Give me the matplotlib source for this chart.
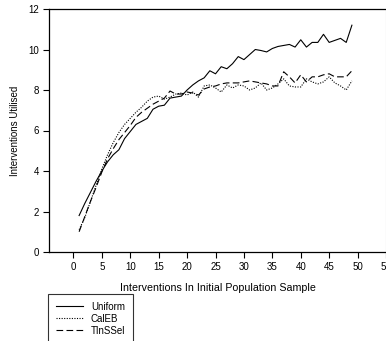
import matplotlib as mpl
import matplotlib.pyplot as plt
import numpy as np

plt.rcParams['font.family'] = ['Liberation Sans', 'DejaVu Sans']

# Interventions in initial population sample
sample_size = np.arange(1, 50)

uniform = [1.8, 2.4, 2.95, 3.5, 4.0, 4.45, 4.8, 5.05, 5.6, 5.95,
           6.3, 6.45, 6.6, 7.05, 7.2, 7.25, 7.6, 7.65, 7.7, 8.0,
           8.25, 8.45, 8.6, 8.95, 8.8, 9.15, 9.05, 9.3, 9.65, 9.5,
           9.75, 10.0, 9.95, 9.88, 10.05, 10.15, 10.2, 10.25, 10.12, 10.48,
           10.12, 10.35, 10.35, 10.75, 10.35, 10.45, 10.55, 10.35, 11.2]

caleb = [1.1, 1.7, 2.5, 3.3, 4.1, 4.8, 5.4, 5.9, 6.3, 6.6,
         6.9, 7.15, 7.45, 7.65, 7.7, 7.55, 7.65, 7.8, 7.85, 7.75,
         7.9, 7.65, 8.2, 8.25, 8.1, 7.9, 8.25, 8.1, 8.25, 8.2,
         8.0, 8.1, 8.35, 8.0, 8.1, 8.3, 8.55, 8.2, 8.15, 8.15,
         8.55, 8.4, 8.3, 8.4, 8.65, 8.35, 8.2, 8.0, 8.45]

tinssel = [1.0, 1.75, 2.5, 3.2, 3.95, 4.6, 5.1, 5.55, 5.9, 6.25,
           6.65, 6.9, 7.1, 7.3, 7.45, 7.6, 7.95, 7.8, 7.8, 7.9,
           7.85, 7.75, 8.05, 8.15, 8.2, 8.3, 8.35, 8.35, 8.35, 8.4,
           8.45, 8.4, 8.35, 8.3, 8.2, 8.2, 8.9, 8.65, 8.35, 8.75,
           8.4, 8.65, 8.65, 8.75, 8.8, 8.65, 8.65, 8.65, 8.95]

W, H = 386, 341
fig = plt.figure(figsize=(W / 100, H / 100), dpi=100)
ax = fig.add_axes([49 / W, (H - 252) / H, 337 / W, 243 / H])

ax.plot(sample_size, uniform, color='black', lw=0.8, ls='-', label='Uniform')
ax.plot(sample_size, caleb, color='black', lw=0.8, ls=(0, (1, 1.3)), label='CalEB')
ax.plot(sample_size, tinssel, color='black', lw=0.8, ls=(0, (6, 3)), label='TInSSel')

ax.set_xlim(-4.3, 55)
ax.set_ylim(0, 12)
ax.set_xticks(range(0, 60, 5))
ax.set_yticks(range(0, 14, 2))
ax.tick_params(labelsize=7, length=4, width=0.8, pad=3, direction='out')

for s in ['left', 'bottom', 'top']:
    ax.spines[s].set_linewidth(0.9)
    ax.spines[s].set_color('black')
ax.spines['right'].set_color('#bbbbbb')

ax.set_xlabel('Interventions In Initial Population Sample', fontsize=7.7, labelpad=8)
ax.set_ylabel('Interventions Utilised', fontsize=7, labelpad=6)

leg = fig.legend(loc='upper left', bbox_to_anchor=(48 / W, 1 - 294 / H),
                 fontsize=7, frameon=True, fancybox=False, edgecolor='black',
                 handlelength=2.8, borderaxespad=0, borderpad=0.8,
                 labelspacing=0.2, handletextpad=0.8)
leg.get_frame().set_linewidth(0.8)

plt.savefig('out.png', dpi=100)
